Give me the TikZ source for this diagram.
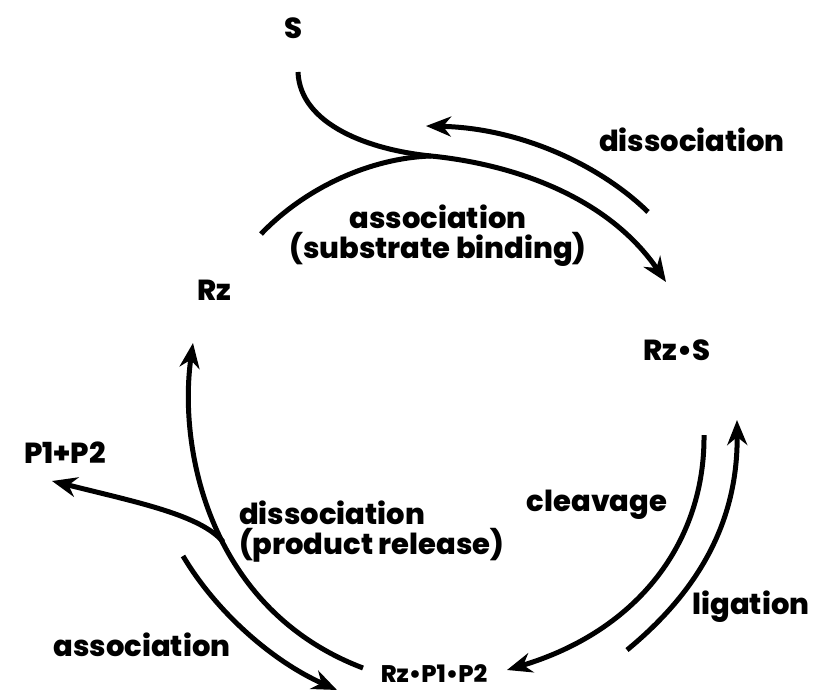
\documentclass[tikz,border=0pt]{standalone}
\usepackage{fontspec}
\setmainfont{Poppins}[BoldFont={Poppins ExtraBold}]
\usepackage{tikz}
\usetikzlibrary{arrows.meta, positioning}
\tikzstyle{species} = [font=\bfseries\fontsize{29}{30}\selectfont, inner sep=0pt]
\tikzstyle{complex} = [font=\bfseries\fontsize{24}{25}\selectfont, inner sep=0pt]
\tikzstyle{steplabel} = [font=\bfseries\fontsize{29}{30}\selectfont, inner sep=0pt]
\tikzstyle{reaction} = [line width=5pt, -{Stealth[length=25pt, width=20pt, inset=8pt]}]
\tikzstyle{branch} = [line width=5pt]

\begin{document}
\begin{tikzpicture}[x=1pt, y=-1pt]
	\useasboundingbox (0,0) rectangle (815,693);
	% species
	\node[species] (S) at (293,28) {S};
	\node[species] (Rz) at (214,290) {Rz};
	\node[species] (RzS) at (677,350) {Rz•S};
	\node[species] (P) at (65,453) {P1+P2};
	\node[complex] (RzPP) at (434,674) {Rz•P1•P2};
	% step labels
	\node[steplabel] (dissup) at (692,140) {dissociation};
	\node[steplabel, align=center] (assocup) at (438,236) {association\\(substrate binding)};
	\node[steplabel] (cleav) at (597,505) {cleavage};
	\node[steplabel] (lig) at (751,607) {ligation};
	\node[steplabel, align=left, anchor=west] (disslow) at (239,532) {dissociation\\(product release)};
	\node[steplabel] (assoclow) at (142,645) {association};
	% ends of the arrows
	\coordinate (s0) at (298,72);
	\coordinate (join) at (431,156);
	\coordinate (rz0) at (261,234);
	\coordinate (rzs0) at (648,212);
	\coordinate (rzs1) at (666,282);
	\coordinate (s1) at (426,126);
	\coordinate (rzs2) at (704,435);
	\coordinate (rzs3) at (737,420);
	\coordinate (pp0) at (627,650);
	\coordinate (pp1) at (507,670);
	\coordinate (pp2) at (363,668);
	\coordinate (rz1) at (193,343);
	\coordinate (p1) at (52,481);
	\coordinate (p0) at (183,556);
	\coordinate (pp3) at (337,690);
	% arrows
	\draw[reaction] (s0) .. controls (300,125) and (370,150) .. (join) .. controls (520,165) and (610,200) .. (rzs1);
	\draw[branch] (rz0) .. controls (305,188) and (370,158) .. (join);
	\draw[reaction] (rzs0) .. controls (600,165) and (520,128) .. (s1);
	\draw[reaction] (rzs2) .. controls (705,540) and (640,630) .. (pp1);
	\draw[reaction] (pp0) .. controls (700,590) and (738,520) .. (rzs3);
	\draw[reaction] (pp2) .. controls (210,610) and (178,450) .. coordinate[pos=0.45] (fork) (rz1);
	\draw[reaction] (fork) .. controls (200,515) and (140,503) .. (p1);
	\draw[reaction] (p0) .. controls (215,610) and (270,660) .. (pp3);
\end{tikzpicture}
\end{document}
